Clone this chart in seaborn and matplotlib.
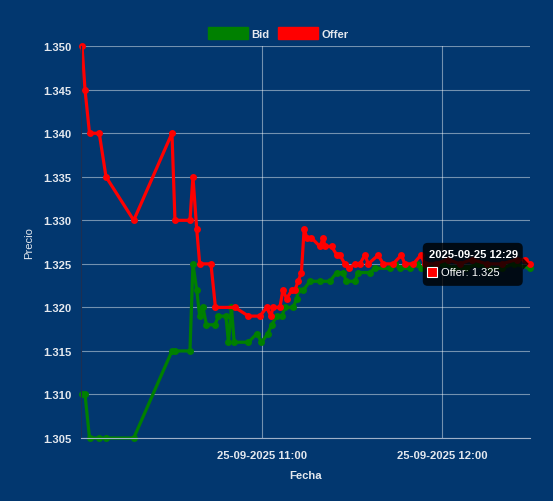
import matplotlib
matplotlib.use('Agg')
import matplotlib.pyplot as plt
import matplotlib.dates as mdates
from matplotlib.patches import Patch, FancyBboxPatch, Rectangle, Polygon
from matplotlib.transforms import IdentityTransform
import pandas as pd
import seaborn as sns

sns.set_style('dark')
plt.rcParams['font.family'] = ['Liberation Sans', 'DejaVu Sans']

bg = '#02376f'
txt = '#e4e8ee'

# Bid series
bid_times = [
    '10:00:00', '10:01:00', '10:02:30', '10:05:45', '10:08:00', '10:17:15',
    '10:30:00', '10:31:00', '10:36:00', '10:37:00', '10:38:15', '10:39:15',
    '10:40:20', '10:41:30', '10:44:20', '10:45:30', '10:48:00', '10:48:50',
    '10:49:50', '10:50:45', '10:55:30', '10:58:20', '10:59:50', '11:02:00',
    '11:03:15', '11:05:00', '11:06:40', '11:07:45', '11:10:25', '11:11:35',
    '11:12:10', '11:13:50', '11:16:00', '11:19:20', '11:22:40', '11:24:55',
    '11:27:05', '11:28:10', '11:31:00', '11:32:05', '11:36:00', '11:37:40',
    '11:42:40', '11:44:20', '11:46:00', '11:49:20', '11:51:35', '11:53:10',
    '11:57:00', '12:00:30', '12:04:00', '12:08:00', '12:12:00', '12:16:00',
    '12:20:00', '12:24:00', '12:29:20',
]
bid_values = [
    1.310, 1.310, 1.305, 1.305, 1.305, 1.305,
    1.315, 1.315, 1.315, 1.325, 1.322, 1.319,
    1.320, 1.318, 1.318, 1.319, 1.319, 1.316,
    1.320, 1.316, 1.316, 1.317, 1.316, 1.317,
    1.318, 1.319, 1.319, 1.320, 1.320, 1.321,
    1.322, 1.322, 1.323, 1.323, 1.323, 1.324,
    1.324, 1.323, 1.323, 1.324, 1.324, 1.3245,
    1.3245, 1.325, 1.3245, 1.3245, 1.325, 1.3245,
    1.3245, 1.325, 1.3245, 1.3245, 1.325, 1.3245,
    1.3245, 1.325, 1.3245,
]

# Offer series
offer_times = [
    '10:00:00', '10:01:00', '10:02:30', '10:05:45', '10:08:00', '10:17:15',
    '10:30:00', '10:31:00', '10:36:00', '10:37:00', '10:38:15', '10:39:15',
    '10:43:00', '10:44:30', '10:51:00', '10:55:30', '10:59:20', '11:01:35',
    '11:03:00', '11:03:40', '11:06:00', '11:07:00', '11:08:15', '11:10:00',
    '11:11:00', '11:12:05', '11:13:10', '11:14:05', '11:15:00', '11:16:30',
    '11:19:20', '11:20:30', '11:21:00', '11:23:15', '11:25:00', '11:26:00',
    '11:27:40', '11:29:05', '11:31:00', '11:32:40', '11:34:20', '11:35:30',
    '11:38:45', '11:40:30', '11:43:45', '11:46:30', '11:47:40', '11:50:30',
    '11:53:00', '11:54:20', '11:58:00', '12:02:00', '12:06:00', '12:10:00',
    '12:15:00', '12:20:00', '12:25:00', '12:27:40', '12:29:20',
]
offer_values = [
    1.350, 1.345, 1.340, 1.340, 1.335, 1.330,
    1.340, 1.330, 1.330, 1.335, 1.329, 1.325,
    1.325, 1.320, 1.320, 1.319, 1.319, 1.320,
    1.319, 1.320, 1.320, 1.322, 1.321, 1.322,
    1.322, 1.323, 1.324, 1.329, 1.328, 1.328,
    1.327, 1.328, 1.327, 1.327, 1.326, 1.326,
    1.325, 1.3245, 1.325, 1.325, 1.326, 1.325,
    1.326, 1.325, 1.325, 1.326, 1.325, 1.325,
    1.326, 1.325, 1.325, 1.3255, 1.325, 1.3255,
    1.325, 1.325, 1.3255, 1.3255, 1.325,
]

day = '2025-09-25 '
bid = pd.DataFrame({'Fecha': pd.to_datetime([day + t for t in bid_times]), 'Precio': bid_values})
offer = pd.DataFrame({'Fecha': pd.to_datetime([day + t for t in offer_times]), 'Precio': offer_values})

fig = plt.figure(figsize=(5.53, 5.02), dpi=100, facecolor=bg)
ax = fig.add_axes([0.1465, 0.1255, 0.8115, 0.7805])
ax.set_facecolor(bg)

line_kw = dict(marker='o', markersize=5, markeredgewidth=0, linewidth=2.3, clip_on=False)
sns.lineplot(data=bid, x='Fecha', y='Precio', color='#008000', ax=ax, **line_kw)
sns.lineplot(data=offer, x='Fecha', y='Precio', color='#ff0000', ax=ax, **line_kw)

ax.set_xlim(offer['Fecha'].iloc[0] - pd.Timedelta(seconds=20), offer['Fecha'].iloc[-1])
ax.set_ylim(1.305, 1.350)
ax.set_yticks([1.305 + 0.005 * i for i in range(10)])
ax.yaxis.set_major_formatter(matplotlib.ticker.FormatStrFormatter('%.3f'))
ax.xaxis.set_major_locator(mdates.HourLocator(byhour=[11, 12]))
ax.xaxis.set_major_formatter(mdates.DateFormatter('%d-%m-%Y %H:%M'))

ax.grid(True, color='white', alpha=0.45, linewidth=0.8)
ax.set_axisbelow(True)
ax.tick_params(axis='both', colors='#9fb0c8', labelcolor=txt, labelsize=8.1, width=0.8)
ax.tick_params(axis='y', length=4, pad=3)
ax.tick_params(axis='x', length=5, pad=4)
for lab in ax.get_xticklabels() + ax.get_yticklabels():
    lab.set_fontweight('bold')
for side in ['top', 'right']:
    ax.spines[side].set_visible(False)
ax.spines['left'].set_color('#1d2f52')
ax.spines['bottom'].set_color('#9fb0c8')
ax.spines['bottom'].set_linewidth(0.8)

ax.set_xlabel('Fecha', color=txt, fontsize=8.1, fontweight='bold', labelpad=7)
ax.set_ylabel('Precio', color=txt, fontsize=8.1, labelpad=6)

handles = [Patch(facecolor='#008000', edgecolor='#008000', label='Bid'),
           Patch(facecolor='#ff0000', edgecolor='#ff0000', label='Offer')]
leg = fig.legend(handles=handles, loc='center', bbox_to_anchor=(0.503, 0.932), ncol=2,
                 frameon=False, handlelength=3.6, handleheight=1.25, handletextpad=0.3,
                 columnspacing=0.7, prop={'size': 8.1, 'weight': 'bold'})
for t in leg.get_texts():
    t.set_color(txt)

# Tooltip on the last Offer point
fig.canvas.draw()
px, py = ax.transData.transform((mdates.date2num(offer['Fecha'].iloc[-1]), offer['Precio'].iloc[-1]))
ident = IdentityTransform()
box = FancyBboxPatch((px - 107, py - 22), 100, 43, boxstyle='round,pad=0,rounding_size=5',
                     facecolor='black', alpha=0.82, edgecolor='none', transform=ident, zorder=10)
fig.patches.append(box)
caret = Polygon([(px - 7, py + 6), (px - 1, py), (px - 7, py - 6)], closed=True,
                facecolor='black', alpha=0.82, edgecolor='none', transform=ident, zorder=10)
fig.patches.append(caret)
fig.text(px - 101, py + 10, '2025-09-25 12:29', transform=ident, color='white',
         fontsize=8.0, fontweight='bold', va='center', ha='left', zorder=11)
sq = Rectangle((px - 103, py - 13), 10, 10, facecolor='#ff0000', edgecolor='white',
               linewidth=0.8, transform=ident, zorder=11)
fig.patches.append(sq)
fig.text(px - 89, py - 8, 'Offer: 1.325', transform=ident, color='white',
         fontsize=8.0, va='center', ha='left', zorder=11)

fig.savefig('out.png', dpi=100, facecolor=bg)
